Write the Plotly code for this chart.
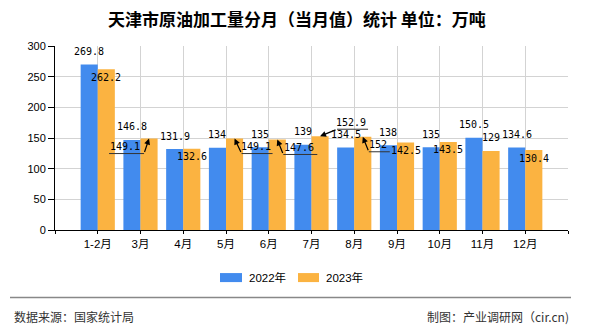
import plotly.graph_objects as go

# ---------------- data ----------------
categories = ["1-2月", "3月", "4月", "5月", "6月", "7月", "8月", "9月", "10月", "11月", "12月"]
series_names = ["2022年", "2023年"]
values_2022 = [269.8, 146.8, 131.9, 134, 135, 139, 134.5, 138, 135, 150.5, 134.6]
values_2023 = [262.2, 149.1, 132.6, 149.1, 147.6, 152.9, 152, 142.5, 143.5, 129, 130.4]
y_ticks = [0, 50, 100, 150, 200, 250, 300]

title_text = "天津市原油加工量分月（当月值）统计 单位：万吨"
source_text = "数据来源：国家统计局"
maker_text = "制图：产业调研网（cir.cn)"

# ---------------- style ----------------
BLUE = "#428BEE"
ORANGE = "#FBB341"
W, H = 590, 330
L, R, T, B = 55, 568, 46, 229.7
CJK = "Liberation Sans, Noto Sans CJK SC, sans-serif"
MONO = "DejaVu Sans Mono, monospace"


def px(x):
    return (x - L) / (R - L)


def py(y):
    return (B - y) / (B - T)


xs = list(range(len(categories)))

fig = go.Figure()
fig.add_trace(go.Bar(x=xs, y=values_2022, name=series_names[0], marker_color=BLUE,
                     marker_line_width=0))
fig.add_trace(go.Bar(x=xs, y=values_2023, name=series_names[1], marker_color=ORANGE,
                     marker_line_width=0))

# label offsets (pixels, screen y down) relative to bar top
blue_off = {i: (0, -13) for i in xs}
orange_off = {i: (0, 8) for i in xs}
orange_off[9] = (0, -13)
# arrowed labels: text offset, underline x-range, underline y, arrow tail
arrowed = {
    1: dict(text=(-24, 8), ul=(-40, -5), uy=15, tail=(-5, 15)),
    3: dict(text=(21, 8), ul=(7, 38), uy=15, tail=(7, 15)),
    4: dict(text=(22, 8), ul=(6, 40), uy=15, tail=(6, 15)),
    5: dict(text=(31, -14), ul=(17, 48), uy=-7, tail=(17, -7)),
    6: dict(text=(15, 8), ul=(6, 27), uy=15, tail=(6, 15)),
}
for i, a in arrowed.items():
    orange_off[i] = a["text"]

annotations = []
shapes = []


def fmt(v):
    return ("%g" % v)


for i in xs:
    for vals, off, sh in ((values_2022, blue_off, -0.2), (values_2023, orange_off, 0.2)):
        dx, dy = off[i]
        annotations.append(dict(x=i + sh, y=vals[i], xref="x", yref="y", text=fmt(vals[i]),
                                showarrow=False, xanchor="center", yanchor="middle",
                                xshift=dx, yshift=-dy,
                                font=dict(family=MONO, size=10, color="#000")))

for i, a in arrowed.items():
    v = values_2023[i]
    shapes.append(dict(type="line", xref="x", yref="y", xsizemode="pixel", ysizemode="pixel",
                       xanchor=i + 0.2, yanchor=v, x0=a["ul"][0], x1=a["ul"][1],
                       y0=-a["uy"], y1=-a["uy"], line=dict(color="#333", width=1)))
    annotations.append(dict(x=i + 0.2, y=v, xref="x", yref="y", text="",
                            showarrow=True, ax=a["tail"][0], ay=a["tail"][1],
                            arrowhead=2, arrowsize=1, arrowwidth=1.2, arrowcolor="#000",
                            standoff=0, startstandoff=0))

# title
annotations.append(dict(x=px(297), y=py(19), xref="paper", yref="paper", text="<b>" + title_text + "</b>",
                        showarrow=False, xanchor="center", yanchor="middle",
                        font=dict(family="Noto Sans CJK SC", size=17, color="#000")))

# custom legend
leg = [(220, 242, 247, BLUE, series_names[0]), (298, 319, 324, ORANGE, series_names[1])]
for x0, x1, tx, col, name in leg:
    shapes.append(dict(type="rect", xref="paper", yref="paper", x0=px(x0), x1=px(x1),
                       y0=py(281.7), y1=py(272.7), fillcolor=col, line=dict(width=0)))
    annotations.append(dict(x=px(tx), y=py(277), xref="paper", yref="paper", text=name,
                            showarrow=False, xanchor="left", yanchor="middle",
                            font=dict(family=CJK, size=11.5, color="#000")))

# footer
shapes.append(dict(type="line", xref="paper", yref="paper", x0=px(10), x1=px(571),
                   y0=py(297), y1=py(297), line=dict(color="#888", width=1.5)))
annotations.append(dict(x=px(12), y=py(316), xref="paper", yref="paper", text=source_text,
                        showarrow=False, xanchor="left", yanchor="middle",
                        font=dict(family="Noto Sans CJK SC", size=12, color="#333")))
annotations.append(dict(x=px(571), y=py(316), xref="paper", yref="paper", text=maker_text,
                        showarrow=False, xanchor="right", yanchor="middle",
                        font=dict(family="Noto Sans CJK SC", size=12, color="#333")))

tickvals = [-1] + xs + [len(xs)]
ticktext = [""] + categories + [""]

fig.update_layout(
    width=W, height=H,
    margin=dict(l=L, r=W - R, t=T, b=H - B),
    paper_bgcolor="white", plot_bgcolor="white",
    barmode="group", bargap=0.2, bargroupgap=0,
    showlegend=False,
    annotations=annotations, shapes=shapes,
    xaxis=dict(range=[-1, len(xs)], tickmode="array", tickvals=tickvals, ticktext=ticktext,
               showgrid=True, gridcolor="#d3d3d3", gridwidth=1,
               showline=True, linecolor="#000", linewidth=1,
               ticks="outside", ticklen=3, tickcolor="#000",
               tickfont=dict(family=CJK, size=11.5, color="#000"), zeroline=False),
    yaxis=dict(range=[0, 300], tickmode="array", tickvals=y_ticks,
               showgrid=True, gridcolor="#d3d3d3", gridwidth=1,
               showline=True, linecolor="#000", linewidth=1,
               ticks="outside", ticklen=6, tickcolor="#000",
               tickfont=dict(family=CJK, size=11, color="#000"), zeroline=False),
)

fig.write_html("out.html")
